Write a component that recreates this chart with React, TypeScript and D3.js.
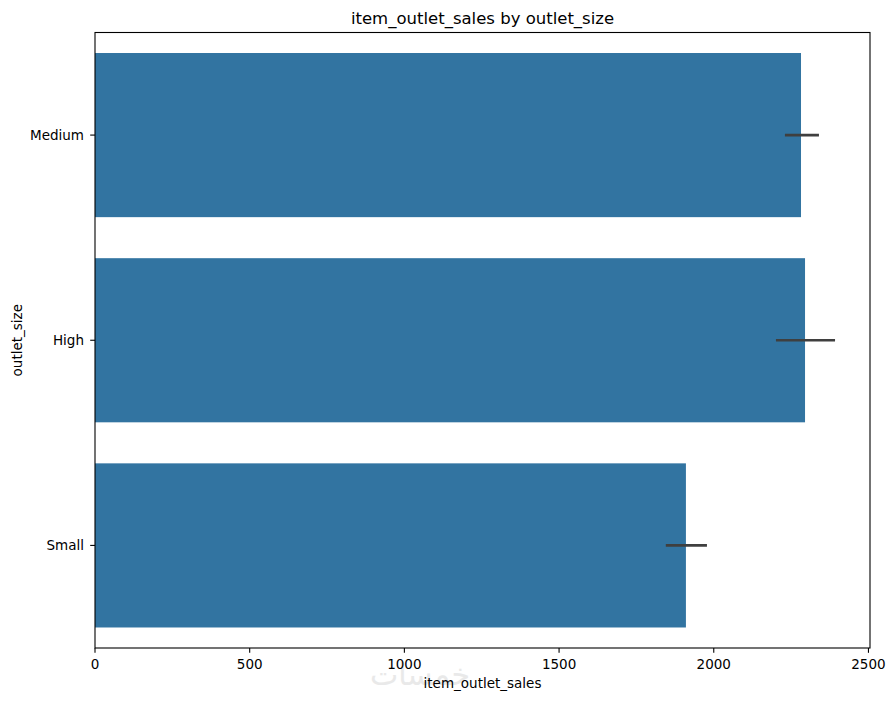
import React from "react";
import * as d3 from "d3";

const categories = ["Medium", "High", "Small"];
const meanSales = [2282, 2295, 1910];
const ciLow = [2230, 2201, 1845];
const ciHigh = [2340, 2392, 1978];
const xTicks = [0, 500, 1000, 1500, 2000, 2500];

const W = 895;
const H = 701;
const M = { left: 95, right: 25, top: 32.5, bottom: 53 };
const FONT = "DejaVu Sans, sans-serif";

export default function App() {
  const x = d3.scaleLinear().domain([0, 2505]).range([M.left, W - M.right]);
  const y = d3
    .scaleBand<string>()
    .domain(categories)
    .range([M.top, H - M.bottom])
    .paddingInner(0.2)
    .paddingOuter(0.1);
  const y0 = M.top;
  const y1 = H - M.bottom;
  const x0 = M.left;
  const x1 = W - M.right;

  return (
    <svg
      width={W}
      height={H}
      style={{ position: "absolute", left: 0, top: 0, background: "#fff" }}
      fontFamily={FONT}
    >
      <rect x={0} y={0} width={W} height={H} fill="#fff" />
      {categories.map((c, i) => (
        <rect
          key={c}
          x={x(0)}
          y={y(c)!}
          width={x(meanSales[i]) - x(0)}
          height={y.bandwidth()}
          fill="#3274a1"
        />
      ))}
      {categories.map((c, i) => (
        <line
          key={c + "err"}
          x1={x(ciLow[i])}
          x2={x(ciHigh[i])}
          y1={y(c)! + y.bandwidth() / 2}
          y2={y(c)! + y.bandwidth() / 2}
          stroke="#3f3f3f"
          strokeWidth={2.7}
        />
      ))}
      {/* watermark */}
      <text x={420} y={685} textAnchor="middle" fontSize={30} fill="#e9e9e9">
        خمسات
      </text>
      {/* spines */}
      <rect x={x0} y={y0} width={x1 - x0} height={y1 - y0} fill="none" stroke="#000" strokeWidth={1.1} />
      {/* x ticks */}
      {xTicks.map((t) => (
        <g key={t}>
          <line x1={x(t)} x2={x(t)} y1={y1} y2={y1 + 4.8} stroke="#000" strokeWidth={1.1} />
          <text x={x(t)} y={669} textAnchor="middle" fontSize={13.5} fill="#000">
            {t}
          </text>
        </g>
      ))}
      {/* y ticks */}
      {categories.map((c) => {
        const cy = y(c)! + y.bandwidth() / 2;
        return (
          <g key={c + "t"}>
            <line x1={x0 - 4.8} x2={x0} y1={cy} y2={cy} stroke="#000" strokeWidth={1.1} />
            <text x={x0 - 11} y={cy} dy="0.35em" textAnchor="end" fontSize={13.5} fill="#000">
              {c}
            </text>
          </g>
        );
      })}
      {/* axis labels */}
      <text x={(x0 + x1) / 2} y={687.5} textAnchor="middle" fontSize={13.5} fill="#000">
        item_outlet_sales
      </text>
      <text
        transform={`translate(21.5, ${(y0 + y1) / 2}) rotate(-90)`}
        textAnchor="middle"
        fontSize={13.5}
        fill="#000"
      >
        outlet_size
      </text>
      <text x={(x0 + x1) / 2} y={24} textAnchor="middle" fontSize={16.5} fill="#000">
        item_outlet_sales by outlet_size
      </text>
    </svg>
  );
}
